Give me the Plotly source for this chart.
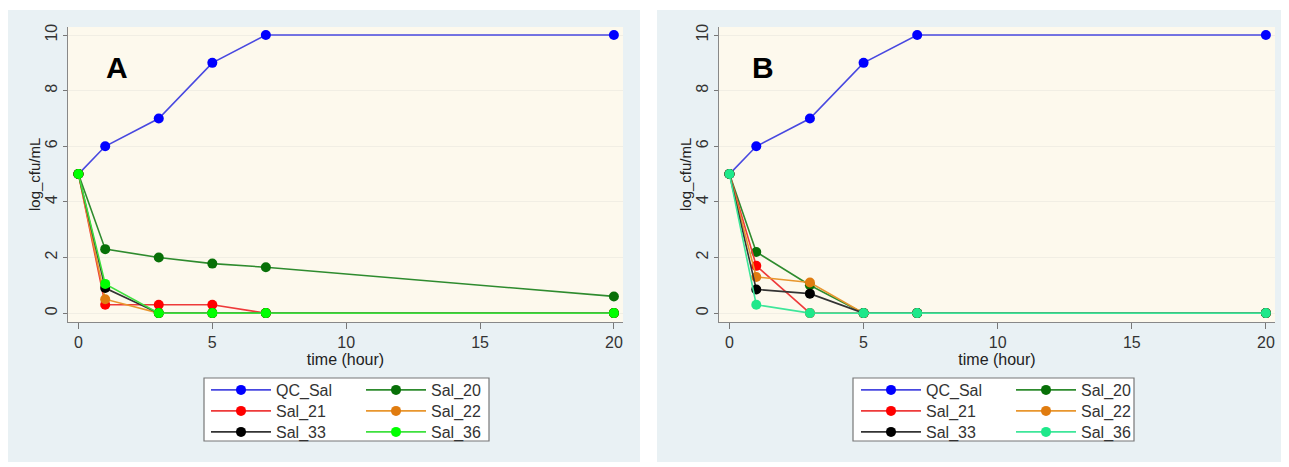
import plotly.graph_objects as go

# Reference canvas is 1289x467; the page body adds an 8px offset, so the figure is drawn smaller
REF_W, REF_H = 1289, 467
OFF = 8
W, H = REF_W - OFF, REF_H - OFF

time_h = [0, 1, 3, 5, 7, 20]
series_names = ["QC_Sal", "Sal_20", "Sal_21", "Sal_22", "Sal_33", "Sal_36"]

# Panel A values (log_cfu/mL)
a_qc_sal = [5, 6, 7, 9, 10, 10]
a_sal_20 = [5, 2.3, 2.0, 1.78, 1.65, 0.6]
a_sal_21 = [5, 0.3, 0.3, 0.3, 0, 0]
a_sal_22 = [5, 0.5, 0, 0, 0, 0]
a_sal_33 = [5, 0.9, 0, 0, 0, 0]
a_sal_36 = [5, 1.05, 0, 0, 0, 0]

# Panel B values (log_cfu/mL)
b_qc_sal = [5, 6, 7, 9, 10, 10]
b_sal_20 = [5, 2.2, 1.0, 0, 0, 0]
b_sal_21 = [5, 1.7, 0, 0, 0, 0]
b_sal_22 = [5, 1.3, 1.1, 0, 0, 0]
b_sal_33 = [5, 0.85, 0.7, 0, 0, 0]
b_sal_36 = [5, 0.3, 0, 0, 0, 0]

panel_labels = ["A", "B"]
x_title = "time (hour)"
y_title = "log_cfu/mL"
x_ticks = [0, 5, 10, 15, 20]
y_ticks = [0, 2, 4, 6, 8, 10]

line_colors_a = ["#4848e0", "#2e8b2e", "#ee3a3a", "#e8962e", "#333333", "#3ee03e"]
marker_colors_a = ["#0000ff", "#087008", "#ff0000", "#e07c10", "#000000", "#00ff00"]
line_colors_b = ["#4848e0", "#2e8b2e", "#ee3a3a", "#e8962e", "#333333", "#3ee69a"]
marker_colors_b = ["#0000ff", "#087008", "#ff0000", "#e07c10", "#000000", "#1ee88a"]

panel_a = [a_qc_sal, a_sal_20, a_sal_21, a_sal_22, a_sal_33, a_sal_36]
panel_b = [b_qc_sal, b_sal_20, b_sal_21, b_sal_22, b_sal_33, b_sal_36]

# legend rows: two entries per row
row_of = [0, 0, 1, 1, 2, 2]


def px_x(p):
    return (p - OFF) / W


def px_y(p):
    return 1 - (p - OFF) / H


fig = go.Figure()

for panel, (vals, lcols, mcols, xa, ya) in enumerate([
        (panel_a, line_colors_a, marker_colors_a, "x", "y"),
        (panel_b, line_colors_b, marker_colors_b, "x2", "y2")]):
    for i, (name, ys) in enumerate(zip(series_names, vals)):
        lg_index = panel * 3 + row_of[i] + 1
        lg = "legend" if lg_index == 1 else f"legend{lg_index}"
        fig.add_trace(go.Scatter(
            x=time_h, y=ys, name=name, mode="lines+markers",
            line=dict(color=lcols[i], width=1.6),
            marker=dict(color=mcols[i], size=10),
            xaxis=xa, yaxis=ya, legend=lg, cliponaxis=False))

ydom = [px_y(322), px_y(27)]
xdomA = [px_x(68), px_x(623)]
xdomB = [px_x(719), px_x(1275)]

font_family = "Liberation Sans, Arial, sans-serif"
tick_font = dict(family=font_family, size=16, color="#333333")


def xaxis_cfg(dom, anchor):
    return dict(domain=dom, anchor=anchor, range=[-0.39, 20.34],
                tickvals=x_ticks, ticks="outside", ticklen=6, tickcolor="#777777",
                showline=True, linecolor="#888888", linewidth=1.2,
                showgrid=False, zeroline=False, tickfont=tick_font,
                title=dict(text=x_title, font=dict(family=font_family, size=16, color="#222222"),
                           standoff=0))


def yaxis_cfg(anchor):
    return dict(domain=ydom, anchor=anchor, range=[-0.32, 10.29],
                tickvals=y_ticks, ticks="outside", ticklen=4, tickcolor="#777777",
                tickangle=-90,
                showline=True, linecolor="#888888", linewidth=1.2,
                showgrid=True, gridcolor="#f1eee4", gridwidth=1.4,
                zeroline=False, tickfont=tick_font)


row_centers = [390, 411, 432]


def legend_cfg(xleft, row):
    return dict(orientation="h", x=px_x(xleft), xanchor="left",
                y=px_y(row_centers[row]), yanchor="middle",
                bgcolor="rgba(0,0,0,0)", borderwidth=0,
                entrywidth=80, entrywidthmode="pixels", itemwidth=60,
                font=dict(family=font_family, size=16, color="#333333"),
                tracegroupgap=0)


legends = {}
for panel, xleft in enumerate([206, 856]):
    for row in range(3):
        idx = panel * 3 + row + 1
        key = "legend" if idx == 1 else f"legend{idx}"
        legends[key] = legend_cfg(xleft, row)

panel_bg = "#e9f1f4"
plot_bg = "#fdf9ed"
shapes = [
    dict(type="rect", xref="paper", yref="paper", x0=px_x(7), x1=px_x(640),
         y0=px_y(462), y1=px_y(10), fillcolor=panel_bg, line=dict(width=0), layer="below"),
    dict(type="rect", xref="paper", yref="paper", x0=px_x(657), x1=px_x(1289),
         y0=px_y(462), y1=px_y(10), fillcolor=panel_bg, line=dict(width=0), layer="below"),
    dict(type="rect", xref="paper", yref="paper", x0=px_x(204), x1=px_x(489),
         y0=px_y(441), y1=px_y(378), fillcolor="#ffffff", line=dict(width=1.2, color="#777777"),
         layer="below"),
    dict(type="rect", xref="paper", yref="paper", x0=px_x(853), x1=px_x(1134),
         y0=px_y(441), y1=px_y(378), fillcolor="#ffffff", line=dict(width=1.2, color="#777777"),
         layer="below"),
    dict(type="rect", xref="x domain", yref="y domain", x0=0, x1=1, y0=0, y1=1,
         fillcolor=plot_bg, line=dict(width=0), layer="below"),
    dict(type="rect", xref="x2 domain", yref="y2 domain", x0=0, x1=1, y0=0, y1=1,
         fillcolor=plot_bg, line=dict(width=0), layer="below"),
]

annotations = []
for lab, xr, yr, xf in [(panel_labels[0], "x domain", "y domain", 0.088),
                        (panel_labels[1], "x2 domain", "y2 domain", 0.08)]:
    annotations.append(dict(text=f"<b>{lab}</b>", xref=xr, yref=yr, x=xf, y=0.864,
                            xanchor="center", yanchor="middle", showarrow=False,
                            font=dict(family=font_family, size=30, color="#000000")))
for xp in [34, 685]:
    annotations.append(dict(text=y_title, xref="paper", yref="paper", x=px_x(xp), y=px_y(175),
                            xanchor="center", yanchor="middle", textangle=-90, showarrow=False,
                            font=dict(family=font_family, size=15, color="#222222")))

fig.update_layout(
    width=W, height=H,
    margin=dict(l=0, r=0, t=0, b=0, autoexpand=False),
    paper_bgcolor="#ffffff",
    plot_bgcolor=plot_bg,
    xaxis=xaxis_cfg(xdomA, "y"),
    yaxis=yaxis_cfg("x"),
    xaxis2=xaxis_cfg(xdomB, "y2"),
    yaxis2=yaxis_cfg("x2"),
    shapes=shapes,
    annotations=annotations,
    **legends,
)

fig.write_html("out.html")
